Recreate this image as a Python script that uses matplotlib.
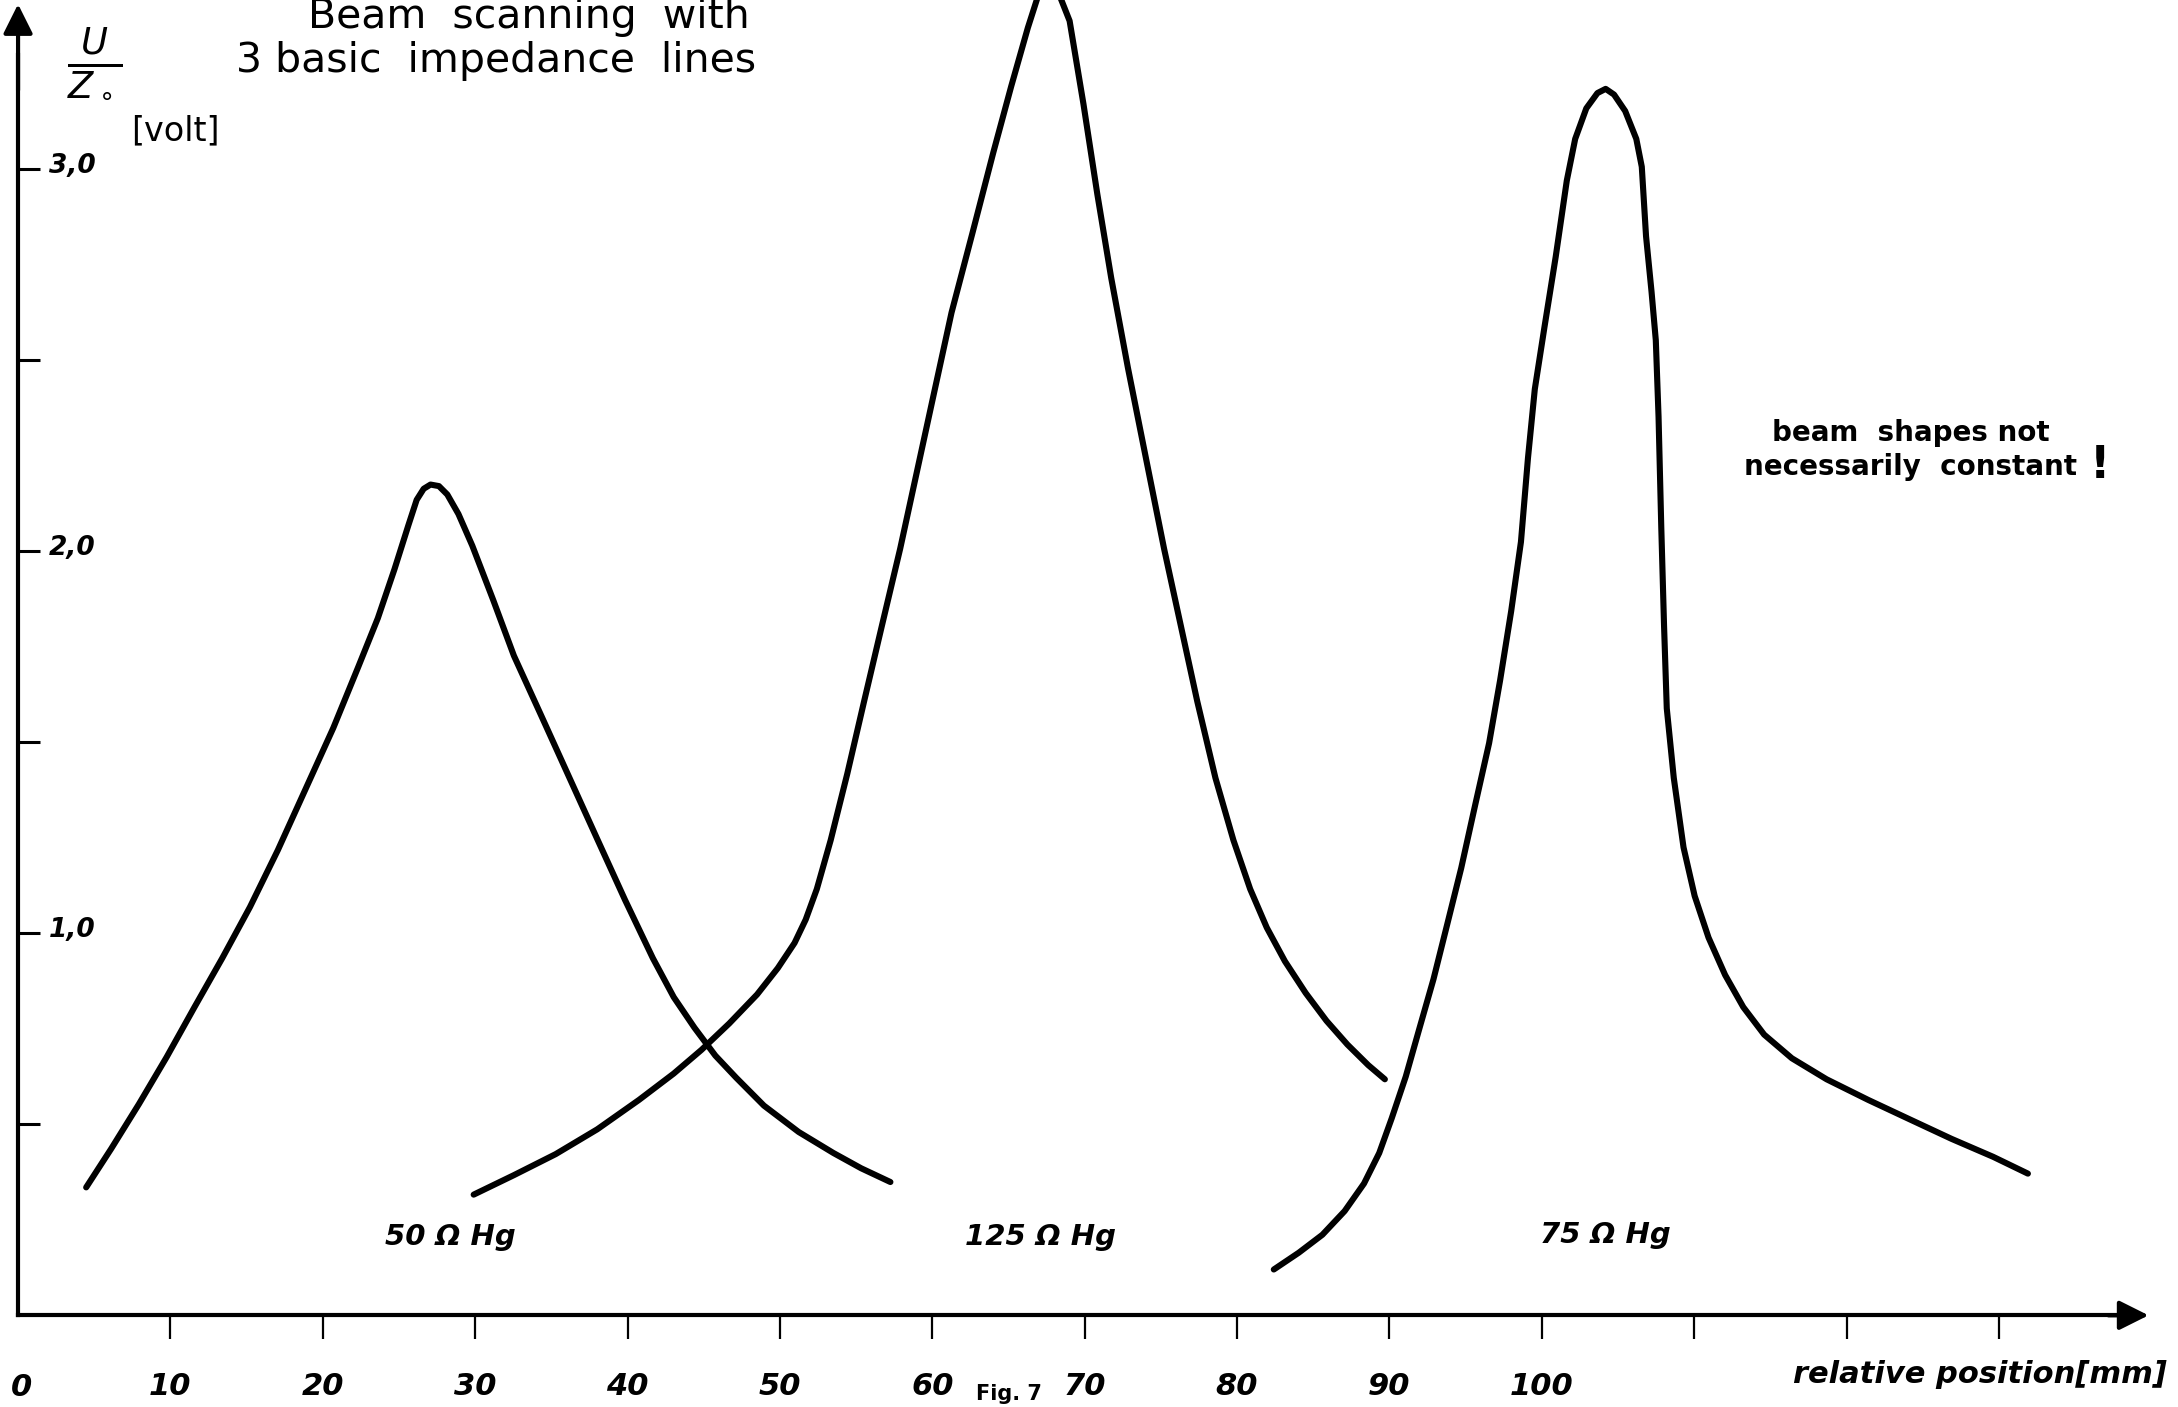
import matplotlib
matplotlib.use("Agg")
import matplotlib.pyplot as plt

# ---- data (relative position [mm], U/Z0 [volt]) ----
x_50 = [4.47, 6.11, 7.93, 9.75, 11.58, 13.40, 15.22, 17.05, 18.87, 20.69, 22.33, 23.61,
        24.70, 25.62, 26.16, 26.62, 27.07, 27.62, 28.17, 28.90, 29.81, 31.18, 32.54,
        34.37, 36.19, 38.01, 39.84, 41.66, 43.03, 44.39, 45.76, 47.13, 48.95, 51.23,
        53.51, 55.33, 57.25]
y_50 = [0.335, 0.436, 0.553, 0.676, 0.807, 0.935, 1.069, 1.218, 1.378, 1.538, 1.698,
        1.825, 1.953, 2.069, 2.135, 2.164, 2.175, 2.171, 2.149, 2.098, 2.015, 1.873,
        1.727, 1.567, 1.407, 1.247, 1.087, 0.935, 0.833, 0.753, 0.680, 0.622, 0.549,
        0.480, 0.425, 0.385, 0.349]

x_125 = [29.90, 32.54, 35.28, 38.01, 40.75, 43.03, 44.85, 46.67, 48.50, 49.86, 50.96,
         51.69, 52.42, 53.33, 54.42, 55.52, 56.70, 57.89, 58.98, 60.07, 61.26, 62.63,
         64.00, 65.18, 66.27, 67.00, 67.82, 69.01, 69.92, 70.83, 71.74, 72.84, 74.02,
         75.21, 76.30, 77.39, 78.58, 79.76, 80.86, 81.95, 83.14, 84.50, 85.87, 87.24,
         88.61, 89.70]
y_125 = [0.316, 0.367, 0.422, 0.487, 0.564, 0.633, 0.695, 0.764, 0.840, 0.909, 0.975,
         1.036, 1.116, 1.244, 1.418, 1.607, 1.807, 2.007, 2.207, 2.407, 2.625, 2.833,
         3.044, 3.218, 3.371, 3.462, 3.509, 3.389, 3.171, 2.935, 2.716, 2.480, 2.244,
         2.007, 1.807, 1.607, 1.407, 1.244, 1.116, 1.015, 0.927, 0.844, 0.771, 0.709,
         0.655, 0.618]

x_75 = [82.41, 84.05, 85.60, 87.06, 88.33, 89.33, 90.15, 91.07, 91.98, 92.89, 93.80,
        94.71, 95.62, 96.54, 97.26, 97.99, 98.63, 99.09, 99.54, 100.18, 100.91, 101.64,
        102.19, 102.92, 103.65, 104.19, 104.74, 105.47, 106.20, 106.56, 106.84, 107.20,
        107.48, 107.66, 107.84, 108.02, 108.20, 108.66, 109.30, 110.03, 110.94, 112.03,
        113.22, 114.59, 116.41, 118.69, 121.42, 124.15, 126.89, 129.62, 131.90]
y_75 = [0.120, 0.164, 0.211, 0.273, 0.345, 0.425, 0.516, 0.625, 0.753, 0.880, 1.025,
        1.171, 1.335, 1.498, 1.662, 1.844, 2.025, 2.244, 2.425, 2.589, 2.771, 2.971,
        3.080, 3.160, 3.200, 3.211, 3.196, 3.153, 3.080, 3.007, 2.825, 2.680, 2.553,
        2.353, 2.062, 1.807, 1.589, 1.407, 1.225, 1.098, 0.989, 0.891, 0.807, 0.735,
        0.673, 0.618, 0.564, 0.513, 0.462, 0.415, 0.371]

curve_labels = ["50 Ω Hg", "125 Ω Hg", "75 Ω Hg"]
label_x = [28.4, 67.1, 104.2]
label_y = [0.205, 0.205, 0.21]

x_ticks = [10, 20, 30, 40, 50, 60, 70, 80, 90, 100, 110, 120, 130]
x_ticklabels = ["10", "20", "30", "40", "50", "60", "70", "80", "90", "100", "", "", ""]
y_ticks = [0.5, 1.0, 1.5, 2.0, 2.5, 3.0]
y_labelled = [1.0, 2.0, 3.0]
y_ticklabels = ["1,0", "2,0", "3,0"]

font = "DejaVu Sans"

fig = plt.figure(figsize=(21.78, 14.07), dpi=100)
ax = fig.add_axes([0, 0, 1, 1])
ax.set_xlim(-13 / 10.97, (1568 - 13) / 10.97)
ax.set_ylim((947 - 1013) / 275, 947 / 275)

for xs, ys in [(x_50, y_50), (x_125, y_125), (x_75, y_75)]:
    ax.plot(xs, ys, color="black", lw=4.4, solid_capstyle="round",
            solid_joinstyle="round")

for t, xx, yy in zip(curve_labels, label_x, label_y):
    ax.text(xx, yy, t, ha="center", va="center", fontsize=21, fontweight="bold",
            style="italic", family=font)

# axes
for s in ["top", "right"]:
    ax.spines[s].set_visible(False)
ax.spines["left"].set_position(("data", 0))
ax.spines["bottom"].set_position(("data", 0.0))
ax.spines["left"].set_linewidth(3)
ax.spines["bottom"].set_linewidth(3)
ax.spines["left"].set_bounds(0, 3.3)
ax.spines["bottom"].set_bounds(0, 138.5)
ax.annotate("", xy=(0, 3.44), xytext=(0, 3.2),
            arrowprops=dict(arrowstyle="-|>", lw=3, color="black", mutation_scale=45))
ax.annotate("", xy=(140.0, 0), xytext=(137, 0),
            arrowprops=dict(arrowstyle="-|>", lw=3, color="black", mutation_scale=45))

ax.set_xticks(x_ticks)
ax.set_xticklabels(x_ticklabels)
ax.tick_params(axis="x", direction="out", length=17, width=1.6, pad=24,
               labelsize=22)
for lab in ax.get_xticklabels():
    lab.set_fontweight("bold")
    lab.set_style("italic")
    lab.set_family(font)
ax.set_yticks(y_ticks)
ax.set_yticklabels([])
ax.tick_params(axis="y", direction="in", length=16, width=2.2)

ax.text(0.2, -0.19, "0", ha="center", va="center", fontsize=22, fontweight="bold",
        style="italic", family=font)
for v, t in zip(y_labelled, y_ticklabels):
    ax.text(2.0, v + 0.01, t, ha="left", va="center", fontsize=19,
            fontweight="bold", style="italic", family=font)

# labels
ax.text(5.0, 3.28, r"$\frac{U}{Z_\circ}$", ha="center", va="center", fontsize=38)
ax.text(10.3, 3.10, "[volt]", ha="center", va="center", fontsize=24,
        family=font)
ax.text(141.0, -0.155, "relative position[mm]", ha="right", va="center",
        fontsize=22, fontweight="bold", style="italic", family=font)

ax.text(33.5, 3.37, "Beam  scanning  with", ha="center", va="baseline",
        fontsize=29.5, family=font)
ax.text(31.4, 3.255, "3 basic  impedance  lines", ha="center", va="baseline",
        fontsize=29.5, family=font)
ax.text(124.2, 2.265, "beam  shapes not\nnecessarily  constant", ha="center",
        va="center", fontsize=20, fontweight="bold", family=font,
        linespacing=1.25)
ax.text(136.6, 2.225, "!", ha="center", va="center", fontsize=32,
        fontweight="bold", family=font)
ax.text(65.0, (947 - 1011) / 275, "Fig. 7", ha="center", va="bottom", fontsize=15,
        fontweight="bold", family=font)

fig.savefig("out.png", dpi=100)
